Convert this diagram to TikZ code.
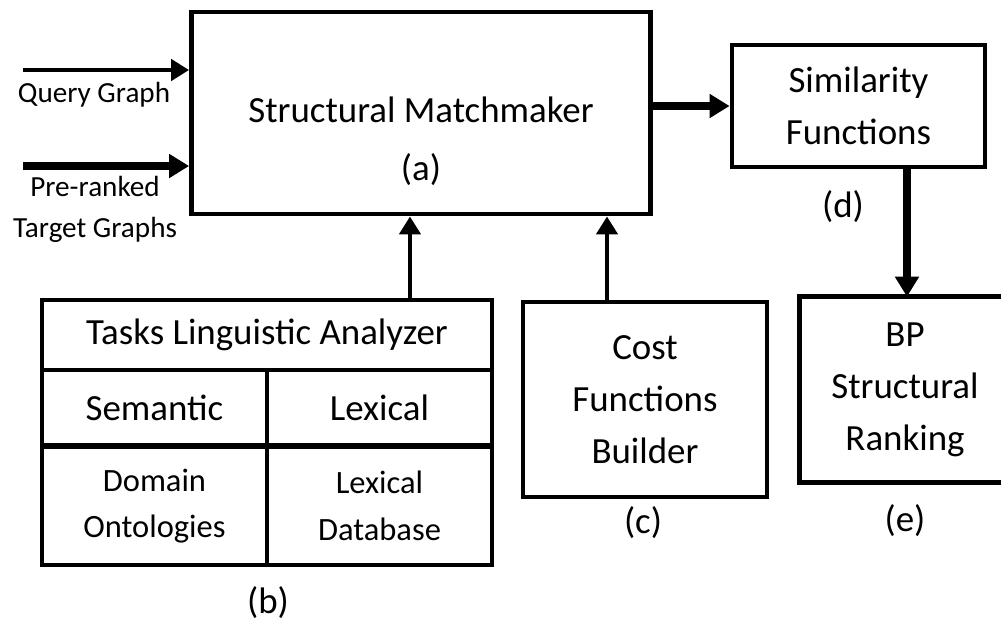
\documentclass[tikz,border=0pt]{standalone}
\usepackage{fontspec}
\setmainfont{Carlito}
\usepackage{tikz}
\usetikzlibrary{arrows.meta}
\newcommand{\bigtxt}{\fontsize{21}{29.5}\selectfont}
\newcommand{\midtxt}{\fontsize{18.5}{26.6}\selectfont}
\newcommand{\smalltxt}{\fontsize{16.6}{23.2}\selectfont}

\begin{document}
\begin{tikzpicture}[x=0.02cm, y=-0.02cm,
    blk/.style={draw, line width=2.8pt, inner sep=0pt, align=center},
    thinarr/.style={line width=2.6pt, -{Triangle[length=0.36cm, width=0.42cm]}},
    fatarr/.style={line width=4.4pt, -{Triangle[length=0.40cm, width=0.46cm]}}]
\useasboundingbox (0,0) rectangle (1001,623);

% matchmaker (a)
\node[blk, minimum width=9.18cm, minimum height=4.04cm] (main) at (421,113) {};
\node[font=\bigtxt] (mtxt) at (421,110) {Structural Matchmaker};
\node[font=\bigtxt] (alab) at (421,170) {(a)};

% inputs
\coordinate (qin) at (23,70);
\coordinate (pin) at (23,166);
\draw[thinarr] (qin) -- (qin -| main.west);
\draw[fatarr] (pin) -- (pin -| main.west);
\node[font=\smalltxt] (qlab) at (94,95) {Query Graph};
\node[font=\smalltxt, align=center] (plab) at (95,209) {Pre-ranked\\Target Graphs};

% analyzer table (b)
\begin{scope}[every node/.style={blk, line width=2.6pt}]
\node[minimum width=9cm, minimum height=1.4cm, font=\bigtxt] (tla) at (267,335) {Tasks Linguistic Analyzer};
\node[minimum width=4.5cm, minimum height=1.5cm, font=\bigtxt] (sem) at (154.5,407.5) {Semantic};
\node[minimum width=4.5cm, minimum height=1.5cm, font=\bigtxt] (lex) at (379.5,407.5) {Lexical};
\node[minimum width=4.5cm, minimum height=2.36cm, font=\midtxt] (dom) at (154.5,506) {Domain\\Ontologies};
\node[minimum width=4.5cm, minimum height=2.36cm, font=\midtxt] (ldb) at (379.5,506) {Lexical\\Database};
\end{scope}
\node[font=\bigtxt] (blab) at (268,603) {(b)};

% cost builder (c)
\node[blk, minimum width=4.88cm, minimum height=3.9cm, font=\bigtxt] (cost) at (645,399.5) {Cost\\Functions\\Builder};
\node[font=\bigtxt] (clab) at (643,523) {(c)};

% similarity (d)
\node[blk, minimum width=5.06cm, minimum height=2.44cm, font=\bigtxt] (sim) at (858.5,106) {Similarity\\Functions};
\node[font=\bigtxt] (dlab) at (843,207) {(d)};

% ranking (e), open on the right edge
\node[minimum width=4.2cm, minimum height=3.7cm, inner sep=0pt] (bp) at (905,389.5) {};
\draw[line width=2.8pt] (bp.north east) -- (bp.north west) -- (bp.south west) -- (bp.south east);
\node[font=\bigtxt, align=center] (bptxt) at (bp) {BP\\Structural\\Ranking};
\node[font=\bigtxt] (elab) at (905,521) {(e)};

% connectors
\coordinate (tla-out) at ([xshift=2.86cm]tla.north);
\coordinate (cost-out) at ([xshift=-0.76cm]cost.north);
\coordinate (sim-out) at ([xshift=0.97cm]sim.south);
\draw[thinarr] (tla-out) -- (tla-out |- main.south);
\draw[thinarr] (cost-out) -- (cost-out |- main.south);
\draw[fatarr] (main.east |- sim.west) -- (sim.west);
\draw[fatarr] (sim-out) -- (sim-out |- bp.north);
\end{tikzpicture}
\end{document}
